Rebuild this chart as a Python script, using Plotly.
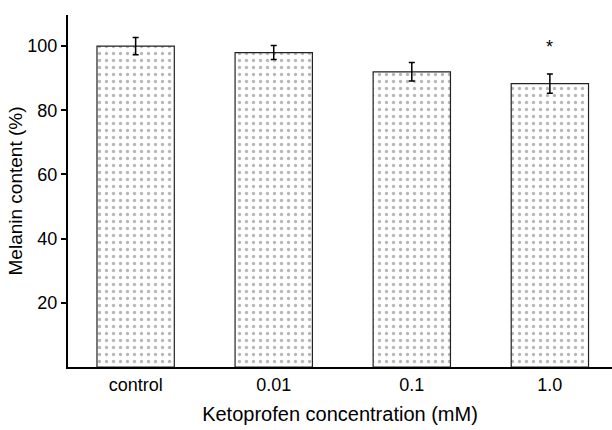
import plotly.graph_objects as go

categories = ["control", "0.01", "0.1", "1.0"]
melanin = [100.0, 98.0, 92.0, 88.3]
errors = [2.7, 2.2, 2.9, 3.0]
significance = ["", "", "", "*"]
y_ticks = [20, 40, 60, 80, 100]

x_pos = list(range(len(categories)))
FONT = "Liberation Sans, Arial, sans-serif"

fig = go.Figure()
fig.add_trace(go.Bar(
    x=x_pos,
    y=melanin,
    width=0.56,
    marker=dict(
        color="white",
        line=dict(color="#222222", width=1.2),
        pattern=dict(shape=".", fgcolor="#707070", bgcolor="white", size=7, solidity=0.18),
    ),
    error_y=dict(type="data", array=errors, visible=True, color="black", thickness=1.5, width=3),
    hoverinfo="skip",
))

for xi, yi, ei, s in zip(x_pos, melanin, errors, significance):
    if s:
        fig.add_annotation(x=xi, y=yi + ei + 8.5, text=s, showarrow=False,
                           font=dict(size=18, color="black", family=FONT))

fig.update_layout(
    width=612, height=430,
    margin=dict(l=68, r=0, t=15, b=63),
    paper_bgcolor="white", plot_bgcolor="white",
    showlegend=False,
    font=dict(family=FONT, size=18, color="black"),
)
fig.update_xaxes(
    range=[-0.49, 3.45], automargin=False,
    tickvals=x_pos, ticktext=categories,
    showline=True, linecolor="black", linewidth=2,
    ticks="", showgrid=False, zeroline=False,
    title=dict(text="Ketoprofen concentration (mM)", standoff=13, font=dict(size=20)),
    tickfont=dict(size=18),
)
fig.update_yaxes(
    range=[0, 109.7], automargin=False,
    tickvals=y_ticks,
    showline=True, linecolor="black", linewidth=2,
    ticks="outside", ticklen=5, tickwidth=1.5, tickcolor="black",
    showgrid=False, zeroline=False,
    title=dict(text="Melanin content (%)", standoff=0, font=dict(size=19)),
    tickfont=dict(size=18),
)

fig.write_html(
    "out.html",
    config={"displayModeBar": False},
    post_script="document.body.style.margin='0';document.body.style.overflow='hidden';",
)
